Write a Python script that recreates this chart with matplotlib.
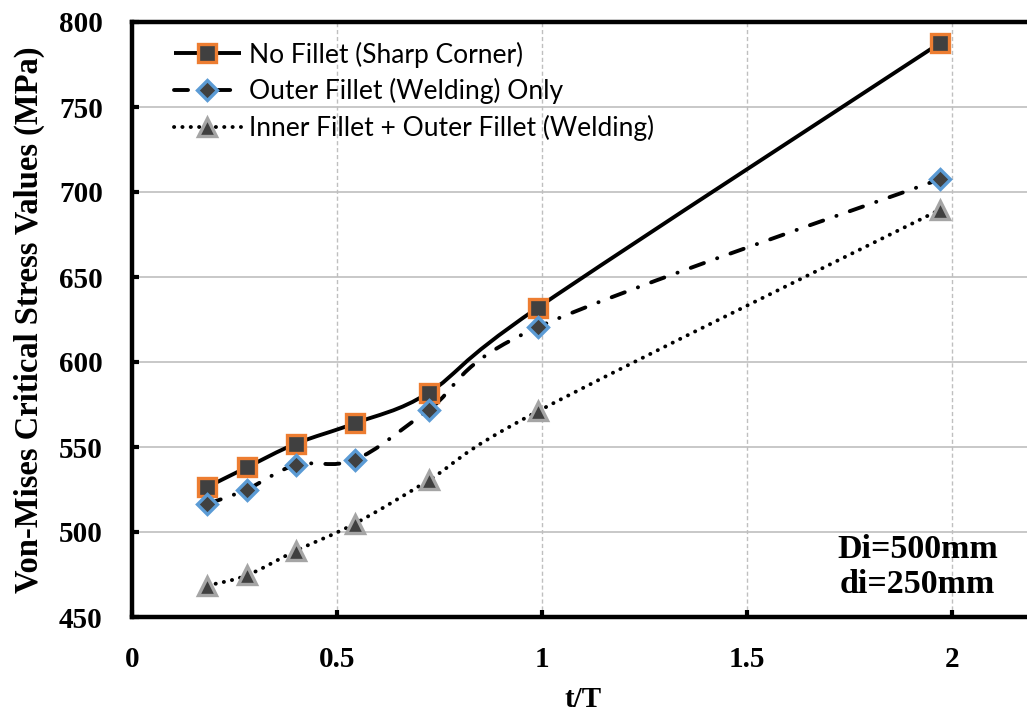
import matplotlib
matplotlib.use('Agg')
import matplotlib.pyplot as plt
from matplotlib.path import Path
from matplotlib.patches import PathPatch
from matplotlib.lines import Line2D
import numpy as np

# data
t_T = [0.184, 0.28, 0.40, 0.544, 0.724, 0.99, 1.97]
no_fillet = [526.5, 538, 552, 564, 582, 632, 787.5]
outer_only = [516.5, 525, 539.5, 542.5, 572, 620.5, 707.5]
inner_outer = [468.5, 474.5, 489, 505, 530.5, 571, 689.5]
series_labels = ['No Fillet (Sharp Corner)',
                 'Outer Fillet (Welding) Only',
                 'Inner Fillet + Outer Fillet (Welding)']
x_ticks = [0, 0.5, 1, 1.5, 2]
x_ticklabels = ['0', '0.5', '1', '1.5', '2']
y_ticks = [450, 500, 550, 600, 650, 700, 750, 800]

serif = 'Liberation Serif'
sans = 'Lato'


def smooth_path(xs, ys):
    # Excel-like smoothed line: Catmull-Rom converted to cubic Bezier segments
    p = np.column_stack([xs, ys]).astype(float)
    n = len(p)
    verts = [p[0]]
    codes = [Path.MOVETO]
    for i in range(n - 1):
        p0 = p[i - 1] if i > 0 else p[i]
        p3 = p[i + 2] if i + 2 < n else p[i + 1]
        c1 = p[i] + (p[i + 1] - p0) / 6.0
        c2 = p[i + 1] - (p3 - p[i]) / 6.0
        verts += [c1, c2, p[i + 1]]
        codes += [Path.CURVE4] * 3
    return Path(verts, codes)


fig = plt.figure(figsize=(10.27, 7.17), dpi=100)
ax = fig.add_axes([132 / 1027, 100 / 717, 902 / 1027, 595 / 717])

styles = [
    dict(ls='-', marker='s', mec='#ED7D31', ms=12.5),
    dict(ls=(0, (3.6, 3.6, 0.05, 3.6)), marker='D', mec='#5B9BD5', ms=10.5),
    dict(ls=(0, (0.05, 2.1)), marker='^', mec='#A5A5A5', ms=13),
]
lw = 2.8
handles = []
for ys, st, lab in zip([no_fillet, outer_only, inner_outer], styles, series_labels):
    patch = PathPatch(smooth_path(t_T, ys), facecolor='none', edgecolor='black',
                      lw=lw, linestyle=st['ls'], capstyle='round', joinstyle='round', zorder=3)
    ax.add_patch(patch)
    ax.plot(t_T, ys, linestyle='none', marker=st['marker'], ms=st['ms'],
            mfc='#404040', mec=st['mec'], mew=2.4, zorder=4)
    handles.append(Line2D([0], [0], color='black', lw=lw, linestyle=st['ls'],
                          dash_capstyle='round', solid_capstyle='butt',
                          marker=st['marker'], ms=st['ms'], mfc='#404040',
                          mec=st['mec'], mew=2.4, label=lab))

ax.set_xlim(0, 2.2)
ax.set_ylim(450, 800)
ax.set_xticks(x_ticks)
ax.set_xticklabels(x_ticklabels, fontfamily=serif, fontweight='bold', fontsize=21)
ax.set_yticks(y_ticks)
ax.set_yticklabels([str(v) for v in y_ticks], fontfamily=serif, fontweight='bold', fontsize=21)
ax.yaxis.grid(True, color='#BFBFBF', lw=1.2, ls='-')
ax.xaxis.grid(True, color='#BFBFBF', lw=1.0, ls=(0, (3, 2)))
ax.set_axisbelow(True)

for s in ['left', 'bottom', 'top']:
    ax.spines[s].set_linewidth(3.2)
ax.spines['right'].set_visible(False)
ax.tick_params(axis='both', direction='in', length=5, width=3, pad=21)

ax.set_xlabel('t/T', fontfamily=serif, fontweight='bold', fontsize=21, labelpad=9)
ax.set_ylabel('Von-Mises Critical Stress Values (MPa)', fontfamily=serif,
              fontweight='bold', fontsize=23.5, labelpad=10)

ax.text(0.871, 0.084, 'Di=500mm\ndi=250mm', transform=ax.transAxes, ha='center',
        va='center', fontfamily=serif, fontweight='bold', fontsize=24.5, linespacing=1.15)

leg = ax.legend(handles=handles, loc='upper left', bbox_to_anchor=(0.02, 1.007),
                frameon=False, numpoints=1, handlelength=2.55, handletextpad=0.3,
                labelspacing=0.4, prop={'family': sans, 'size': 19})

fig.savefig('out.png', dpi=100)
